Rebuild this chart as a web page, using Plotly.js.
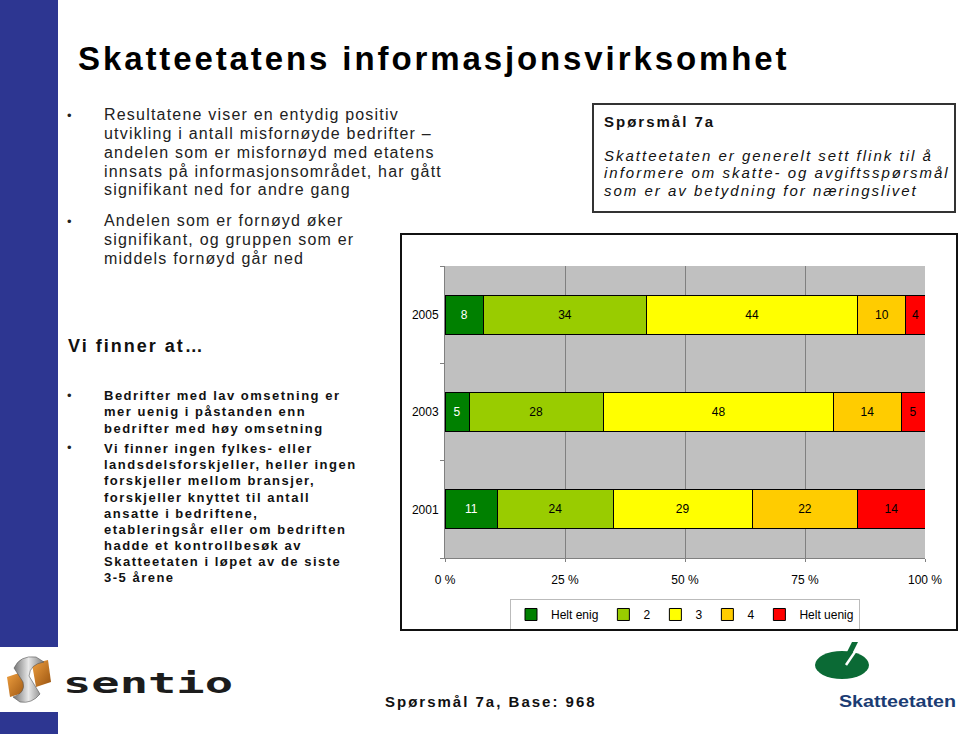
<!DOCTYPE html>
<html><head><meta charset="utf-8">
<script src="https://cdn.plot.ly/plotly-3.0.1.min.js"></script>
<style>
html,body{margin:0;padding:0;background:#fff;width:960px;height:734px;overflow:hidden;}
body{position:relative;font-family:"Liberation Sans",Arial,sans-serif;}
.t{position:absolute;white-space:nowrap;line-height:1;color:#1a1a1a;}
.b1{font-size:16px;letter-spacing:1.2px;left:104px;color:#222;}
.b2{font-size:13px;font-weight:bold;letter-spacing:1.5px;left:104px;color:#111;}
.dot{position:absolute;font-size:13px;line-height:1;color:#222;}
.q{font-size:15px;font-style:italic;letter-spacing:2px;left:604px;color:#111;}
</style></head>
<body>
<div style="position:absolute;left:0;top:0;width:58px;height:647px;background:#2D3691;"></div>
<div style="position:absolute;left:0;top:712px;width:58px;height:22px;background:#2D3691;"></div>

<div class="t" style="left:78px;top:42px;font-size:33px;font-weight:bold;letter-spacing:2.9px;color:#000;">Skatteetatens informasjonsvirksomhet</div>

<div class="dot" style="left:67px;top:109px;">•</div>
<div class="t b1" style="top:107px;">Resultatene viser en entydig positiv</div>
<div class="t b1" style="top:125.5px;">utvikling i antall misfornøyde bedrifter –</div>
<div class="t b1" style="top:144.5px;">andelen som er misfornøyd med etatens</div>
<div class="t b1" style="top:163.5px;">innsats på informasjonsområdet, har gått</div>
<div class="t b1" style="top:182px;">signifikant ned for andre gang</div>
<div class="dot" style="left:67px;top:215px;">•</div>
<div class="t b1" style="top:213px;">Andelen som er fornøyd øker</div>
<div class="t b1" style="top:232px;">signifikant, og gruppen som er</div>
<div class="t b1" style="top:251px;">middels fornøyd går ned</div>

<div class="t" style="left:68px;top:337px;font-size:18px;font-weight:bold;letter-spacing:2px;color:#111;">Vi finner at…</div>

<div class="dot" style="left:67px;top:389px;">•</div>
<div class="t b2" style="top:389px;">Bedrifter med lav omsetning er</div>
<div class="t b2" style="top:405px;">mer uenig i påstanden enn</div>
<div class="t b2" style="top:421.5px;">bedrifter med høy omsetning</div>
<div class="dot" style="left:67px;top:441px;">•</div>
<div class="t b2" style="top:441.5px;">Vi finner ingen fylkes- eller</div>
<div class="t b2" style="top:457.5px;">landsdelsforskjeller, heller ingen</div>
<div class="t b2" style="top:473.5px;">forskjeller mellom bransjer,</div>
<div class="t b2" style="top:490.5px;">forskjeller knyttet til antall</div>
<div class="t b2" style="top:506.5px;">ansatte i bedriftene,</div>
<div class="t b2" style="top:522.5px;">etableringsår eller om bedriften</div>
<div class="t b2" style="top:538.5px;">hadde et kontrollbesøk av</div>
<div class="t b2" style="top:554.5px;">Skatteetaten i løpet av de siste</div>
<div class="t b2" style="top:570.5px;">3-5 årene</div>

<div style="position:absolute;left:592px;top:103px;width:364px;height:110px;border:2px solid #333;box-sizing:border-box;"></div>
<div class="t" style="left:604px;top:113.5px;font-size:15px;font-weight:bold;letter-spacing:2px;color:#111;">Spørsmål 7a</div>
<div class="t q" style="top:147.5px;">Skatteetaten er generelt sett flink til å</div>
<div class="t q" style="top:165px;">informere om skatte- og avgiftsspørsmål</div>
<div class="t q" style="top:182.5px;">som er av betydning for næringslivet</div>

<div id="chart" style="position:absolute;left:400px;top:233px;width:558px;height:398px;"></div>
<div style="position:absolute;left:400px;top:233px;width:558px;height:398px;border:2px solid #111;box-sizing:border-box;pointer-events:none;"></div>

<div class="t" style="left:385px;top:693.5px;font-size:15px;font-weight:bold;letter-spacing:2px;color:#111;">Spørsmål 7a, Base: 968</div>

<svg style="position:absolute;left:0;top:640px;" width="250" height="72" viewBox="0 640 250 72">
  <defs>
    <linearGradient id="og" x1="0" y1="0" x2="1" y2="1"><stop offset="0" stop-color="#F0A040"/><stop offset="1" stop-color="#9A5410"/></linearGradient>
    <linearGradient id="gg" x1="0" y1="0" x2="1" y2="0"><stop offset="0" stop-color="#6E6E6E"/><stop offset="0.5" stop-color="#E8E8E8"/><stop offset="1" stop-color="#7A7A7A"/></linearGradient>
  </defs>
  <polygon points="7,677 22,672 26,692 10,697" fill="url(#og)"/>
  <polygon points="32,664 48,660 51,682 36,687" fill="url(#og)"/>
  <path d="M14 668 Q20 655 36 657 L44 662 Q30 664 29 676 L40 694 Q32 704 20 702 L13 697 Q26 693 23 682 Z" fill="url(#gg)" stroke="#555" stroke-width="0.6"/>
  <text x="63" y="693" font-family="DejaVu Sans Mono" font-weight="bold" font-size="29" textLength="170" lengthAdjust="spacingAndGlyphs" fill="#1c1c1c">sentio</text>
</svg>

<svg style="position:absolute;left:800px;top:635px;" width="160" height="80" viewBox="800 635 160 80">
  <ellipse cx="842" cy="665" rx="27" ry="14" fill="#0B6A35"/>
  <polygon points="845,656 852,642 858,642 851,656" fill="#0B6A35"/>
  <line x1="859" y1="646" x2="846" y2="665" stroke="#fff" stroke-width="2.5"/>
  <text x="839" y="707" font-family="Liberation Sans" font-weight="bold" font-size="17" textLength="117" lengthAdjust="spacingAndGlyphs" fill="#1B3C73">Skatteetaten</text>
</svg>

<script>
const years = ['2001', '2003', '2005'];
const categories = ['Helt enig', '2', '3', '4', 'Helt uenig'];
const heltEnig = [11, 5, 8];
const svar2 = [24, 28, 34];
const svar3 = [29, 48, 44];
const svar4 = [22, 14, 10];
const heltUenig = [14, 5, 4];
const tickVals = [0, 25, 50, 75, 100];
const tickLabels = ['0 %', '25 %', '50 %', '75 %', '100 %'];

const colors = ['#008000', '#99CC00', '#FFFF00', '#FFCC00', '#FF0000'];
const labelColors = ['#FFFFFF', '#000000', '#000000', '#000000', '#000000'];
const series = [heltEnig, svar2, svar3, svar4, heltUenig];
const FONT = 'Liberation Sans, Arial, sans-serif';

const traces = series.map((vals, i) => ({
  type: 'bar',
  orientation: 'h',
  name: categories[i],
  y: years,
  x: vals,
  text: vals.map(String),
  textposition: 'inside',
  insidetextanchor: 'middle',
  textangle: 0,
  textfont: {color: labelColors[i], size: 12, family: FONT},
  marker: {color: colors[i], line: {color: '#000000', width: 1}},
  hoverinfo: 'none'
}));

const layout = {
  width: 558, height: 398,
  margin: {l: 45, r: 33, t: 33, b: 73, pad: 0, autoexpand: false},
  paper_bgcolor: '#FFFFFF',
  plot_bgcolor: '#C0C0C0',
  barmode: 'stack',
  bargap: 0.6,
  font: {family: FONT, size: 12, color: '#000000'},
  xaxis: {
    range: [0, 100], tickmode: 'array', tickvals: tickVals, ticktext: tickLabels,
    showgrid: true, gridcolor: '#808080', gridwidth: 1, zeroline: false,
    showline: true, linecolor: '#808080', linewidth: 1,
    ticks: 'outside', ticklen: 3, tickcolor: '#808080',
    ticklabelstandoff: 8, fixedrange: true, automargin: false
  },
  yaxis: {
    type: 'category', categoryorder: 'array', categoryarray: years,
    showgrid: false, zeroline: false, showline: true, linecolor: '#808080', linewidth: 1,
    ticks: 'outside', tickson: 'boundaries', ticklen: 4, tickcolor: '#808080',
    ticklabelstandoff: 3, fixedrange: true, automargin: false
  },
  legend: {
    orientation: 'h', x: 0.5, xanchor: 'center', y: -0.1404, yanchor: 'top',
    bordercolor: '#BBBBBB', borderwidth: 1, bgcolor: '#FFFFFF',
    font: {size: 12, family: FONT, color: '#000000'}, traceorder: 'normal'
  },
  showlegend: true
};

Plotly.newPlot('chart', traces, layout, {staticPlot: true, displayModeBar: false});
</script>
</body></html>
